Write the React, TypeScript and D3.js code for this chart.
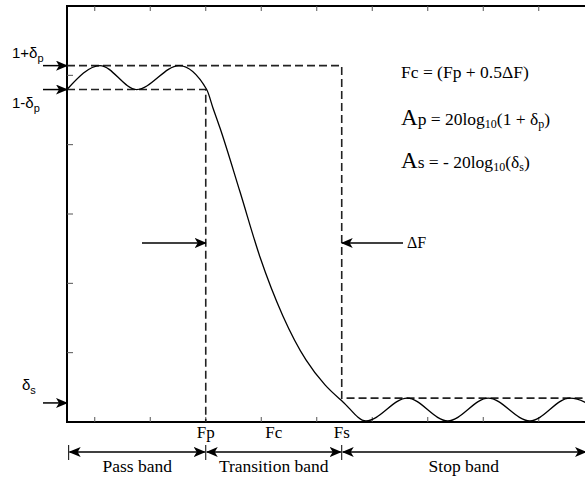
import React, { Component } from "react";
import * as d3 from "d3";

// normalized frequency (x) and magnitude (y)
const xTicks = [0.05, 0.15, 0.25, 0.35, 0.45, 0.55, 0.65, 0.75, 0.85];
const yTicks = [0.2, 0.4, 0.6, 0.8, 1.0];

const responseX = [0, 0.0595, 0.1255, 0.2018, 0.2517, 0.263, 0.2757, 0.3117, 0.3477, 0.389, 0.4306, 0.4649, 0.4973, 0.5387, 0.613, 0.686, 0.759, 0.834, 0.906, 0.98];
const responseY = [0.959, 1.028, 0.959, 1.028, 0.959, 0.906, 0.848, 0.664, 0.476, 0.306, 0.179, 0.107, 0.058, 0.003, 0.069, 0.003, 0.069, 0.003, 0.069, 0.003];

const passHigh = 1.028;
const passLow = 0.959;
const stopLevel = 0.069;
const stopArrow = 0.055;

const edgeLabels = ["Fp", "Fc", "Fs"];
const edgeValues = [0.25, 0.3725, 0.495];

const bandLabels = ["Pass band", "Transition band", "Stop band"];
const bandStarts = [0.003, 0.25, 0.495];
const bandEnds = [0.25, 0.495, 0.937];

const SERIF = "'Liberation Serif', 'Times New Roman', serif";
const SANS = "'Liberation Sans', Arial, sans-serif";

class App extends Component {
  svgRef = React.createRef<SVGSVGElement>();

  componentDidMount() {
    this.renderChart();
  }

  renderChart() {
    const svg = d3.select(this.svgRef.current);
    svg.selectAll("*").remove();

    const left = 67, top = 6, bottom = 422, right = 622;

    const x = d3.scaleLinear().domain([0, 1]).range([left, right]);
    const y = d3.scaleLinear().domain([0, 1.2]).range([bottom, top]);

    const defs = svg.append("defs");
    defs.append("marker")
      .attr("id", "head")
      .attr("viewBox", "0 0 12 10")
      .attr("refX", 11)
      .attr("refY", 5)
      .attr("markerWidth", 12)
      .attr("markerHeight", 10)
      .attr("markerUnits", "userSpaceOnUse")
      .attr("orient", "auto-start-reverse")
      .append("path")
      .attr("d", "M0,0 L12,5 L0,10 L3,5 Z")
      .style("fill", "#000");

    // frame
    svg.append("rect")
      .attr("x", left)
      .attr("y", top)
      .attr("width", right - left)
      .attr("height", bottom - top)
      .style("fill", "none")
      .style("stroke", "#000")
      .style("stroke-width", 2);

    // inward ticks
    const ticks = svg.append("g").style("stroke", "#555").style("stroke-width", 1);
    xTicks.forEach(t => {
      ticks.append("line").attr("x1", x(t)).attr("x2", x(t)).attr("y1", bottom).attr("y2", bottom - 5);
      ticks.append("line").attr("x1", x(t)).attr("x2", x(t)).attr("y1", top).attr("y2", top + 5);
    });
    yTicks.forEach(t => {
      ticks.append("line").attr("x1", left).attr("x2", left + 6).attr("y1", y(t)).attr("y2", y(t));
    });

    // tolerance template (dashed)
    const dash = svg.append("g")
      .style("fill", "none")
      .style("stroke", "#222")
      .style("stroke-width", 1.6)
      .style("stroke-dasharray", "8,4");

    dash.append("path")
      .attr("d", `M${x(0)},${y(passHigh)} H${x(edgeValues[2])} V${y(stopLevel)} H${x(1)}`);
    dash.append("path")
      .attr("d", `M${x(0)},${y(passLow)} H${x(edgeValues[0])} V${y(0)}`);

    // magnitude response
    const line = d3.line<number>()
      .x((d, i) => x(responseX[i]))
      .y(d => y(d))
      .curve(d3.curveMonotoneX);

    svg.append("path")
      .datum(responseY)
      .attr("d", line)
      .style("fill", "none")
      .style("stroke", "#000")
      .style("stroke-width", 1.3);

    // level arrows on the left
    const arrows = svg.append("g").style("stroke", "#000").style("stroke-width", 1.5);
    [passHigh, passLow, stopArrow].forEach(v => {
      arrows.append("line")
        .attr("x1", 43).attr("x2", left)
        .attr("y1", y(v)).attr("y2", y(v))
        .attr("marker-end", "url(#head)");
    });

    const sub = (t, main, s, yy, size, subSize) => {
      const el = svg.append("text").attr("x", t).attr("y", yy)
        .style("font-family", SANS).style("font-size", size + "px");
      el.append("tspan").text(main);
      el.append("tspan").attr("dy", 4).style("font-size", subSize + "px").text(s);
    };
    sub(12, "1+δ", "p", 58, 15, 11);
    sub(12, "1-δ", "p", 108, 15, 11);
    sub(22, "δ", "s", 390, 15, 11);

    // ΔF arrows
    const yArrow = 243;
    arrows.append("line")
      .attr("x1", 142).attr("x2", x(edgeValues[0]))
      .attr("y1", yArrow).attr("y2", yArrow)
      .attr("marker-end", "url(#head)");
    arrows.append("line")
      .attr("x1", 403).attr("x2", x(edgeValues[2]))
      .attr("y1", yArrow).attr("y2", yArrow)
      .attr("marker-end", "url(#head)");
    svg.append("text")
      .attr("x", 407).attr("y", 248)
      .style("font-family", SERIF).style("font-size", "16px")
      .text("ΔF");

    // edge labels under the axis
    svg.selectAll(".edge")
      .data(edgeLabels)
      .join("text")
      .attr("class", "edge")
      .attr("x", (d, i) => x(edgeValues[i]))
      .attr("y", 438)
      .style("text-anchor", "middle")
      .style("font-family", SERIF)
      .style("font-size", "17px")
      .text(d => d);

    // band arrows
    const yBand = 452;
    bandLabels.forEach((b, i) => {
      const x0 = x(bandStarts[i]) + 1, x1 = x(bandEnds[i]) - 1;
      arrows.append("line")
        .attr("x1", x0).attr("x2", x1)
        .attr("y1", yBand).attr("y2", yBand)
        .attr("marker-start", "url(#head)")
        .attr("marker-end", "url(#head)");
      svg.append("text")
        .attr("x", (Math.max(x0, left) + Math.min(x1, 585)) / 2)
        .attr("y", 472)
        .style("text-anchor", "middle")
        .style("font-family", SERIF)
        .style("font-size", "17.5px")
        .text(b);
    });
    [bandStarts[0], edgeValues[0], edgeValues[2]].forEach(v => {
      arrows.append("line")
        .attr("x1", x(v)).attr("x2", x(v))
        .attr("y1", yBand - 7).attr("y2", yBand + 8)
        .style("stroke-width", 1);
    });

    // formulas
    const fx = 401;
    svg.append("text")
      .attr("x", fx).attr("y", 78)
      .style("font-family", SERIF).style("font-size", "17.5px")
      .text("Fc = (Fp + 0.5ΔF)");

    const ap = svg.append("text").attr("x", fx).attr("y", 125)
      .style("font-family", SERIF).style("font-size", "17.5px");
    ap.append("tspan").style("font-size", "23px").text("A");
    ap.append("tspan").text("p = 20log");
    ap.append("tspan").attr("dy", 3).style("font-size", "12px").text("10");
    ap.append("tspan").attr("dy", -3).text("(1 + δ");
    ap.append("tspan").attr("dy", 3).style("font-size", "12px").text("p");
    ap.append("tspan").attr("dy", -3).text(")");

    const as = svg.append("text").attr("x", fx).attr("y", 168)
      .style("font-family", SERIF).style("font-size", "17.5px");
    as.append("tspan").style("font-size", "23px").text("A");
    as.append("tspan").text("s = - 20log");
    as.append("tspan").attr("dy", 3).style("font-size", "12px").text("10");
    as.append("tspan").attr("dy", -3).text("(δ");
    as.append("tspan").attr("dy", 3).style("font-size", "12px").text("s");
    as.append("tspan").attr("dy", -3).text(")");
  }

  render() {
    return (
      <svg
        ref={this.svgRef}
        width={585}
        height={479}
        style={{ position: "absolute", left: 0, top: 0, background: "#fff" }}
      />
    );
  }
}

export default App;
